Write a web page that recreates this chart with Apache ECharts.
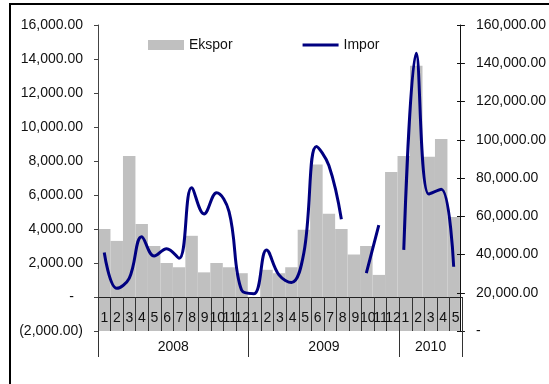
<!DOCTYPE html>
<html>
<head>
<meta charset="utf-8">
<script src="https://cdn.jsdelivr.net/npm/echarts@6/dist/echarts.min.js"></script>
<style>
  html, body { margin: 0; padding: 0; background: #fff; }
  #chart { width: 549px; height: 384px; }
</style>
</head>
<body>
<div id="chart"></div>
<script>
// Monthly categories, Jan 2008 – May 2010
const months = ['1','2','3','4','5','6','7','8','9','10','11','12',
                '1','2','3','4','5','6','7','8','9','10','11','12',
                '1','2','3','4','5'];
const years = ['2008', '2009', '2010'];
const yearMonthCounts = [12, 12, 5];

// Ekspor (left axis) and Impor (right axis); null = no data
const ekspor = [4000, 3300, 8300, 4300, 3000, 2000, 1750, 3600, 1450, 2000, 1750, 1400,
                null, 1600, 1400, 1750, 3950, 7800, 4900, 4000, 2500, 3000, 1300, 7350,
                8300, 13600, 8250, 9300, 4700];
const impor = [41000, 22300, 27500, 49300, 39200, 43000, 38000, 74900, 61200, 72300, 62400, 21400,
               19500, 42400, 29300, 25300, 41000, 96500, 86500, 58400, null, 30200, 55400, null,
               42400, 145200, 71600, 74100, 33600];

// Axis ranges
const leftAxis = { min: -2000, max: 16000, step: 2000 };
const rightAxis = { min: 0, max: 160000, step: 20000 };

const FONT = "'Liberation Sans', Arial, Helvetica, sans-serif";
const GREY = '#c0c0c0';
const NAVY = '#000080';

function accounting(v) {
  const s = Math.abs(v).toLocaleString('en-US', { minimumFractionDigits: 2, maximumFractionDigits: 2 });
  return v < 0 ? '(' + s + ')' : s;
}

// Year row: half-month slots so year names sit centred under their months
const yearSlots = new Array(months.length * 2 + 1).fill('');
const yearBounds = [0];
let start = 0;
years.forEach((y, i) => {
  yearSlots[start * 2 + yearMonthCounts[i]] = y;
  start += yearMonthCounts[i];
  yearBounds.push(start * 2);
});

// plot area spans the full value range; the month row hangs from the zero line
const plotBox = { left: 98, right: 87, top: 25, bottom: 53 };
const zeroBox = { left: 98, right: 87, top: 25, bottom: 87 };

const chart = echarts.init(document.getElementById('chart'), null, { renderer: 'canvas' });
chart.setOption({
  animation: false,
  textStyle: { fontFamily: FONT },
  graphic: [{
    type: 'rect', silent: true, z: 0,
    shape: { x: 10, y: 4, width: 700, height: 500 },
    style: { fill: 'none', stroke: '#000', lineWidth: 2 }
  }],
  legend: {
    left: 143, top: 33,
    itemWidth: 36, itemHeight: 10, itemGap: 70,
    textStyle: { fontFamily: FONT, fontSize: 14, color: '#111' },
    data: [
      { name: 'Ekspor', icon: 'rect' },
      { name: 'Impor', icon: 'path://M0,0 H36 V3 H0 Z' }
    ]
  },
  grid: [
    Object.assign({}, plotBox),
    Object.assign({}, zeroBox),
    Object.assign({}, plotBox)
  ],
  xAxis: [
    {
      type: 'category', gridIndex: 0, data: months, show: false
    },
    {
      type: 'category', gridIndex: 1, data: months, position: 'bottom', z: 20,
      axisLine: { show: true, onZero: false, lineStyle: { color: '#222', width: 1 } },
      axisTick: { show: true, interval: 0, alignWithLabel: false, length: 34, lineStyle: { color: '#333', width: 1 } },
      axisLabel: { interval: 0, margin: 14, fontSize: 14, color: '#111', fontFamily: FONT },
      splitLine: { show: false }
    },
    {
      type: 'category', gridIndex: 2, data: yearSlots, boundaryGap: false, position: 'bottom', z: 20,
      axisLine: { show: false, onZero: false },
      axisTick: { show: true, interval: (idx) => yearBounds.includes(idx), length: 26, lineStyle: { color: '#333' } },
      axisLabel: { interval: 0, margin: 9, fontSize: 14, color: '#111', fontFamily: FONT },
      splitLine: { show: false }
    }
  ],
  yAxis: [
    {
      type: 'value', gridIndex: 0, position: 'left', z: 20,
      min: leftAxis.min, max: leftAxis.max, interval: leftAxis.step,
      axisLine: { show: true, lineStyle: { color: '#444' } },
      axisTick: { show: true, length: 4, lineStyle: { color: '#444' } },
      axisLabel: {
        margin: 15, fontSize: 14, color: '#111', fontFamily: FONT,
        formatter: (v) => v === 0 ? '{z|-}' : accounting(v),
        rich: { z: { fontSize: 14, fontFamily: FONT, color: '#111', padding: [0, 9, 0, 0] } }
      },
      splitLine: { show: false }
    },
    {
      type: 'value', gridIndex: 0, position: 'right', z: 20,
      min: rightAxis.min, max: rightAxis.max, interval: rightAxis.step,
      axisLine: { show: true, lineStyle: { color: '#111' } },
      axisTick: { show: true, length: 5, lineStyle: { color: '#111' } },
      axisLabel: {
        margin: 16, fontSize: 14, color: '#111', fontFamily: FONT,
        formatter: (v) => v === 0 ? '-' : accounting(v)
      },
      splitLine: { show: false }
    },
    {
      type: 'value', gridIndex: 1, min: 0, max: 1, show: false
    },
    {
      // inner half of the right-hand tick marks
      type: 'value', gridIndex: 2, position: 'right', z: 20,
      min: rightAxis.min, max: rightAxis.max, interval: rightAxis.step,
      axisLine: { show: false },
      axisTick: { show: true, inside: true, length: 5, lineStyle: { color: '#111' } },
      axisLabel: { show: false },
      splitLine: { show: false }
    }
  ],
  series: [
    {
      name: 'Ekspor', type: 'bar', xAxisIndex: 0, yAxisIndex: 0,
      data: ekspor, barCategoryGap: '0%', barGap: '0%', z: 2,
      itemStyle: { color: GREY },
      markArea: {
        silent: true, z: 1,
        itemStyle: { color: GREY },
        data: [[{ yAxis: leftAxis.min }, { yAxis: 0 }]]
      }
    },
    {
      name: 'Impor', type: 'line', xAxisIndex: 0, yAxisIndex: 1,
      data: impor, smooth: 0.4, symbol: 'none', connectNulls: false, z: 10,
      itemStyle: { color: NAVY },
      lineStyle: { color: NAVY, width: 3 }
    }
  ]
});
</script>
</body>
</html>
